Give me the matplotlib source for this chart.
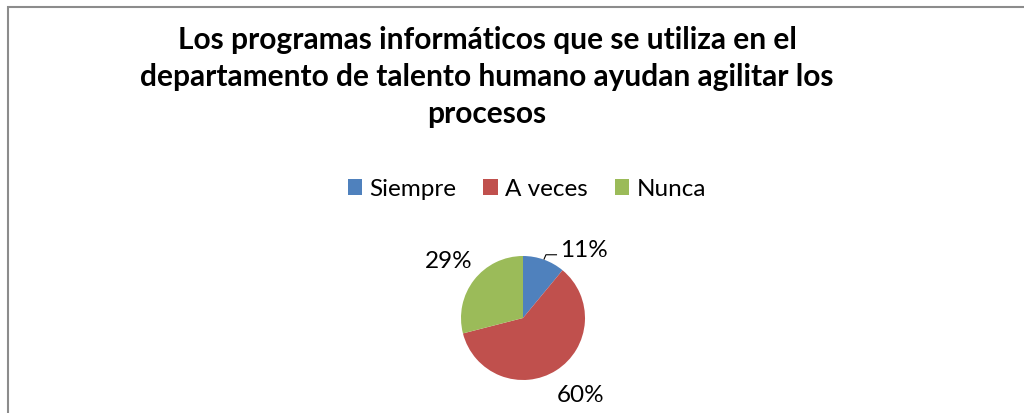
"""Pie chart: programas informáticos en talento humano."""

import matplotlib.pyplot as plt
from matplotlib.patches import Rectangle

labels = ["Siempre", "A veces", "Nunca"]
values = [11, 60, 29]
colors = ["#4F81BD", "#C0504D", "#9BBB59"]

title = ("Los programas informáticos que se utiliza en el\n"
         "departamento de talento humano ayudan agilitar los\n"
         "procesos")

W, H = 1024, 414
plt.rcParams["font.family"] = ["Lato", "DejaVu Sans"]

fig = plt.figure(figsize=(W / 100, H / 100), dpi=100)

# marco del gráfico (sólo se ven el borde izquierdo y el superior)
fig.add_artist(Rectangle((8 / W, -0.1), 1.2, (H - 8) / H + 0.1,
                         transform=fig.transFigure, fill=False,
                         edgecolor="#8c8c8c", linewidth=1.5))

fig.text(487 / W, 1 - 77 / H, title, ha="center", va="center",
         fontsize=21.5, fontweight="bold", linespacing=1.4)

# pastel: centro (523, 319) px, radio 62 px
r = 62
half = 100
ax = fig.add_axes([(523 - half) / W, (H - 319 - half) / H, 2 * half / W, 2 * half / H])
lim = half / r
wedges, texts, autotexts = ax.pie(
    values, colors=colors, startangle=90, counterclock=False,
    autopct="%1.0f%%", pctdistance=1.52,
    textprops={"fontsize": 17.5, "color": "black"},
)
ax.set_xlim(-lim, lim)
ax.set_ylim(-lim, lim)
ax.set_aspect("equal")
ax.axis("off")

# la etiqueta de 11% está desplazada con línea guía
t = autotexts[0]
x, y = t.get_position()
t.set_position((x + 0.46, y - 0.32))
ax.plot([0.34, 0.37, 0.54], [0.95, 1.02, 1.02], color="black", linewidth=0.8)
t = autotexts[1]
x, y = t.get_position()
t.set_position((x + 0.12, y + 0.05))

leg = fig.legend(wedges, labels, loc="center", ncol=3,
                 bbox_to_anchor=(527 / W, 1 - 190 / H), frameon=False,
                 fontsize=17.5, handlelength=0.6, handleheight=0.6,
                 handletextpad=0.3, columnspacing=1.1)

fig.savefig("out.png", dpi=100)
